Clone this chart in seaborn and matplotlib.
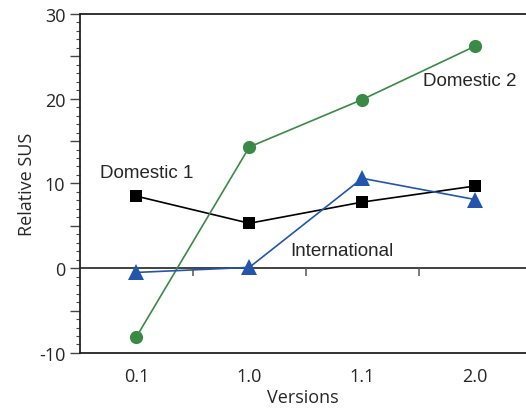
import pandas as pd
import matplotlib.pyplot as plt
import seaborn as sns
from matplotlib.ticker import MultipleLocator, FuncFormatter

# Dados
versoes = ["0.1", "1.0", "1.1", "2.0"]
domestico_1 = [8.5, 5.3, 7.8, 9.7]
domestico_2 = [-8.1, 14.3, 19.9, 26.2]
internacional = [-0.5, 0.1, 10.6, 8.1]
series = ["Domestic 1", "Domestic 2", "International"]

linhas = []
for nome, valores in zip(series, [domestico_1, domestico_2, internacional]):
    for i, v in enumerate(valores):
        linhas.append({"pos": i, "versao": versoes[i], "sus": v, "serie": nome})
df = pd.DataFrame(linhas)

sns.set_style("ticks")
plt.rcParams["font.family"] = ["Open Sans", "DejaVu Sans"]

cores = {"Domestic 1": "black", "Domestic 2": "#3a8a45", "International": "#2356aa"}
marcadores = {"Domestic 1": "s", "Domestic 2": "o", "International": "^"}
tamanhos = {"Domestic 1": 9, "Domestic 2": 9.5, "International": 11}

fig = plt.figure(figsize=(5.26, 4.14), dpi=100)
ax = fig.add_axes([0.152, 0.145, 0.848, 0.819])

# linha do zero e marcas entre as versões
ax.axhline(0, color="#333333", lw=1.3, zorder=1)
ax.vlines([0.5, 1.5, 2.5], -0.9, 0, color="#555555", lw=1.1, zorder=1)

for nome in series:
    sub = df[df["serie"] == nome]
    sns.lineplot(data=sub, x="pos", y="sus", ax=ax, color=cores[nome],
                 marker=marcadores[nome], markersize=tamanhos[nome],
                 markeredgewidth=0, lw=1.2, zorder=3)

ax.set_xlim(-0.5, 3.45)
ax.set_ylim(-10, 30)
ax.set_xticks(range(len(versoes)))
ax.set_xticklabels(versoes)
ax.tick_params(axis="x", length=0, pad=10, labelsize=13)
ax.yaxis.set_major_locator(MultipleLocator(5))
ax.yaxis.set_minor_locator(MultipleLocator(1))
ax.yaxis.set_major_formatter(FuncFormatter(lambda v, p: f"{v:.0f}" if v % 10 == 0 else ""))
ax.tick_params(axis="y", which="major", length=7, width=1, labelsize=13, color="#444444")
ax.tick_params(axis="y", which="minor", length=3, width=0.8, color="#444444")

ax.set_xlabel("Versions", fontsize=13, labelpad=2)
ax.set_ylabel("Relative SUS", fontsize=13, labelpad=2)

for lado in ["left", "top", "bottom"]:
    ax.spines[lado].set_color("#222222")
    ax.spines[lado].set_linewidth(1.3)
ax.spines["right"].set_visible(False)

rot = dict(fontsize=13.5, family=["Liberation Sans", "DejaVu Sans"])
ax.text(-0.32, 11.3, "Domestic 1", va="center", ha="left", **rot)
ax.text(2.54, 22.1, "Domestic 2", va="center", ha="left", **rot)
ax.text(1.36, 2.1, "International", va="center", ha="left", **rot)

fig.savefig("out.png", dpi=100)
